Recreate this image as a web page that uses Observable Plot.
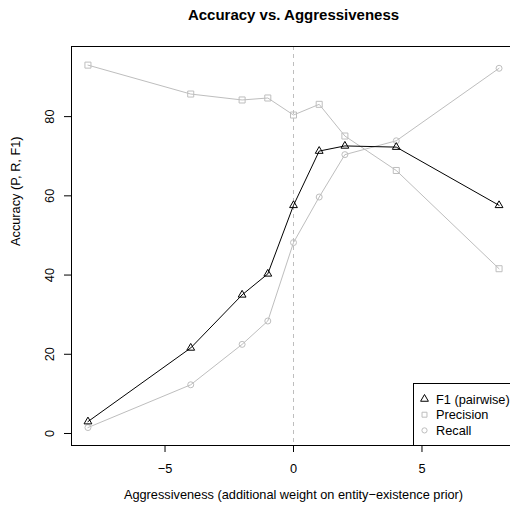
<!DOCTYPE html>
<html><head><meta charset="utf-8">
<script src="https://cdn.jsdelivr.net/npm/d3@7"></script>
<script src="https://cdn.jsdelivr.net/npm/@observablehq/plot@0.6"></script>
<style>
html,body{margin:0;padding:0;background:#fff;overflow:hidden;}
#wrap{position:relative;width:510px;height:510px;overflow:hidden;}
#legend{position:absolute;left:413px;top:383px;width:120px;height:61px;border:1px solid #000;background:#fff;}
</style></head><body><div id="wrap"></div>
<script>
const xValues = [-8, -4, -2, -1, 0, 1, 2, 4, 8];
const f1 = [3.0, 21.6, 35.0, 40.3, 57.6, 71.3, 72.6, 72.3, 57.6];
const precision = [93.0, 85.7, 84.2, 84.7, 80.4, 83.1, 75.1, 66.4, 41.6];
const recall = [1.5, 12.3, 22.5, 28.4, 48.2, 59.7, 70.4, 73.9, 92.2];
const xTicks = [-5, 0, 5];
const xTickLabels = ["\u22125", "0", "5"];
const yTicks = [0, 20, 40, 60, 80];
const seriesNames = ["F1 (pairwise)", "Precision", "Recall"];
const titleText = "Accuracy vs. Aggressiveness";
const xLabel = "Aggressiveness (additional weight on entity\u2212existence prior)";
const yLabel = "Accuracy (P, R, F1)";

const gray = "#bebebe";
const font = "'Liberation Sans', Arial, Helvetica, sans-serif";
const fs = 12.75;
const rows = (vals) => xValues.map((x, i) => ({x, y: vals[i]}));
const dF1 = rows(f1), dP = rows(precision), dR = rows(recall);

const chart = Plot.plot({
  width: 510, height: 510,
  marginLeft: 71, marginRight: -5, marginTop: 46, marginBottom: 65,
  style: {fontFamily: font, fontSize: fs + "px", overflow: "hidden", background: "white", color: "black"},
  x: {domain: [-8.64, 8.64]},
  y: {domain: [-3.03, 97.7]},
  marks: [
    Plot.ruleX([0], {stroke: gray, strokeDasharray: "4,4", strokeWidth: 1}),
    Plot.line(dP, {x: "x", y: "y", stroke: gray, strokeWidth: 1}),
    Plot.dot(dP, {x: "x", y: "y", symbol: "square", r: 3.4, stroke: gray, strokeWidth: 1, fill: "none"}),
    Plot.line(dR, {x: "x", y: "y", stroke: gray, strokeWidth: 1}),
    Plot.dot(dR, {x: "x", y: "y", symbol: "circle", r: 3, stroke: gray, strokeWidth: 1, fill: "none"}),
    Plot.line(dF1, {x: "x", y: "y", stroke: "black", strokeWidth: 1}),
    Plot.dot(dF1, {x: "x", y: "y", symbol: "triangle", r: 2.9, stroke: "black", strokeWidth: 1, fill: "none"}),
    Plot.frame({stroke: "black", strokeWidth: 1}),
    Plot.axisX({ticks: xTicks, tickFormat: d => xTickLabels[xTicks.indexOf(d)], tickSize: 7, tickPadding: 11, label: null, fontSize: fs}),
    Plot.axisY({ticks: yTicks, tickSize: 7, tickFormat: () => "", label: null}),
    Plot.text(yTicks, {y: d => d, text: d => String(d), frameAnchor: "left", dx: -22, rotate: -90, lineAnchor: "middle", textAnchor: "middle", fontSize: fs}),
    Plot.text([titleText], {frameAnchor: "top", dy: -31, lineAnchor: "middle", fontWeight: "bold", fontSize: 15}),
    Plot.text([xLabel], {frameAnchor: "bottom", dy: 49, lineAnchor: "middle", fontSize: fs}),
    Plot.text([yLabel], {frameAnchor: "left", dx: -56, rotate: -90, lineAnchor: "middle", fontSize: fs})
  ]
});
const wrap = document.getElementById("wrap");
wrap.appendChild(chart);

// legend
const leg = document.createElement("div");
leg.id = "legend";
wrap.appendChild(leg);
const lsvg = d3.select(leg).append("svg").attr("width", 120).attr("height", 61)
  .style("font-family", font).style("font-size", fs + "px");
const legSym = [
  {type: d3.symbolTriangle, r: 2.9, stroke: "black"},
  {type: d3.symbolSquare, r: 2.8, stroke: gray},
  {type: d3.symbolCircle, r: 2.6, stroke: gray}
];
seriesNames.forEach((name, i) => {
  const cy = 15 + i * 15.7;
  const s = legSym[i];
  lsvg.append("path").attr("d", d3.symbol(s.type, Math.PI * s.r * s.r)())
    .attr("transform", `translate(10.5,${cy})`).attr("fill", "none").attr("stroke", s.stroke);
  lsvg.append("text").attr("x", 22).attr("y", cy + 4.5).text(name);
});
</script></body></html>
